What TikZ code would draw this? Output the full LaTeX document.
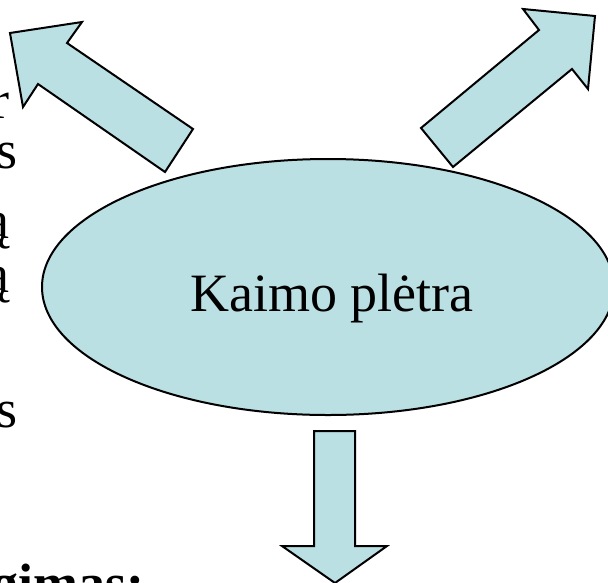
\documentclass[tikz,border=0pt]{standalone}
\usepackage{fontspec}
\setmainfont{Liberation Serif}
\usetikzlibrary{shapes.geometric}
\definecolor{fillc}{RGB}{187,224,227}
\tikzset{
  blockarrow/.style={draw=black, fill=fillc, line width=2pt, line join=miter},
  oval/.style={ellipse, draw=black, fill=fillc, line width=2pt, minimum width=572pt, minimum height=256pt, inner sep=0pt},
  bigtext/.style={font=\fontsize{54}{60}\selectfont, inner sep=0pt},
  sidetext/.style={font=\fontsize{54}{60}\selectfont, inner sep=0pt, anchor=base east},
}
\begin{document}
\begin{tikzpicture}[x=1pt, y=-1pt]
\useasboundingbox (0,0) rectangle (608,582);
\clip (0,0) rectangle (608,582);
% side texts (clipped at the left edge, as in the reference)
\node[sidetext] (t1) at (10,118) {r};
\node[sidetext] (t2) at (18,168) {s};
\node[sidetext] (t3) at (10,238) {ą};
\node[sidetext] (t4) at (10,292) {ą};
\node[sidetext] (t5) at (18,427) {s};
\node[sidetext, font=\fontsize{54}{60}\selectfont\bfseries] (t6) at (145,601) {gimas:};
% ellipse
\node[oval] (e) at (328,287) {};
\node[bigtext, anchor=base west] (lbl) at (190,311) {Kaimo plėtra};
% top-left arrow
\draw[blockarrow] (10,33) -- (82,22) -- (67,43) -- (193,129) -- (165,172) -- (38,84) -- (23,107) -- cycle;
% top-right arrow
\draw[blockarrow] (595,16) -- (523,9) -- (539,30) -- (421,128) -- (453,167) -- (572,69) -- (588,89) -- cycle;
% bottom arrow
\draw[blockarrow] (314,431) -- (355,431) -- (355,546) -- (387,546) -- (335,583) -- (282,546) -- (314,546) -- cycle;
\end{tikzpicture}
\end{document}
